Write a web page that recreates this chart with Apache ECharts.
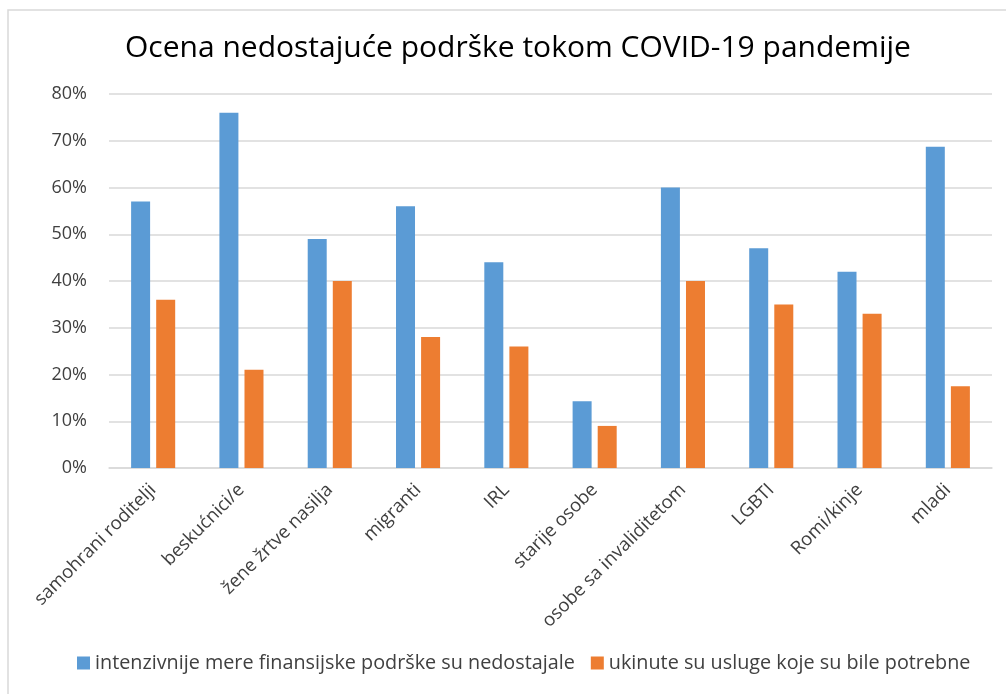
<!DOCTYPE html>
<html>
<head>
<meta charset="utf-8">
<script src="https://cdn.jsdelivr.net/npm/echarts@6/dist/echarts.min.js"></script>
<style>
html,body{margin:0;padding:0;background:#fff;}
#c{width:1006px;height:694px;}
</style>
</head>
<body>
<div id="c"></div>
<script>
const categories = ['samohrani roditelji','beskućnici/e','žene žrtve nasilja','migranti','IRL','starije osobe','osobe sa invaliditetom','LGBTI','Romi/kinje','mladi'];
const seriesNames = ['intenzivnije mere finansijske podrške su nedostajale','ukinute su usluge koje su bile potrebne'];
const financialSupport = [57, 76, 49, 56, 44, 14.3, 60, 47, 42, 68.7];
const servicesCut = [36, 21, 40, 28, 26, 9, 40, 35, 33, 17.5];
const titleText = 'Ocena nedostajuće podrške tokom COVID-19 pandemije';

const chart = echarts.init(document.getElementById('c'));
const font = 'Open Sans';
chart.setOption({
  animation: false,
  textStyle: {fontFamily: font},
  graphic: [{
    type: 'rect', shape: {x: 8, y: 10, width: 1100, height: 720},
    style: {fill: 'none', stroke: '#d9d9d9', lineWidth: 1.5}, silent: true
  }],
  title: {
    text: titleText, left: 120, top: 28,
    textStyle: {fontFamily: font, fontSize: 30, fontWeight: 'normal', color: '#000'}
  },
  legend: {
    bottom: 16, left: 72, itemWidth: 13, itemHeight: 13, itemGap: 16,
    icon: 'rect',
    textStyle: {fontFamily: font, fontSize: 19.8, color: '#404040'},
    data: seriesNames
  },
  grid: {left: 109, right: 14, top: 94, bottom: 226},
  xAxis: {
    type: 'category', data: categories,
    axisLine: {lineStyle: {color: '#d9d9d9', width: 1.5}},
    axisTick: {show: false},
    axisLabel: {rotate: 45, fontSize: 18.5, color: '#404040', margin: 19, interval: 0}
  },
  yAxis: {
    type: 'value', min: 0, max: 80, interval: 10,
    axisLine: {show: false}, axisTick: {show: false},
    splitLine: {lineStyle: {color: '#d9d9d9', width: 1.5}},
    axisLabel: {formatter: '{value}%', fontSize: 18, color: '#404040', margin: 22}
  },
  series: [
    {name: seriesNames[0], type: 'bar', data: financialSupport, barWidth: 19, barGap: '32%',
     itemStyle: {color: '#5B9BD5'}},
    {name: seriesNames[1], type: 'bar', data: servicesCut, barWidth: 19,
     itemStyle: {color: '#ED7D31'}}
  ]
});
</script>
</body>
</html>
